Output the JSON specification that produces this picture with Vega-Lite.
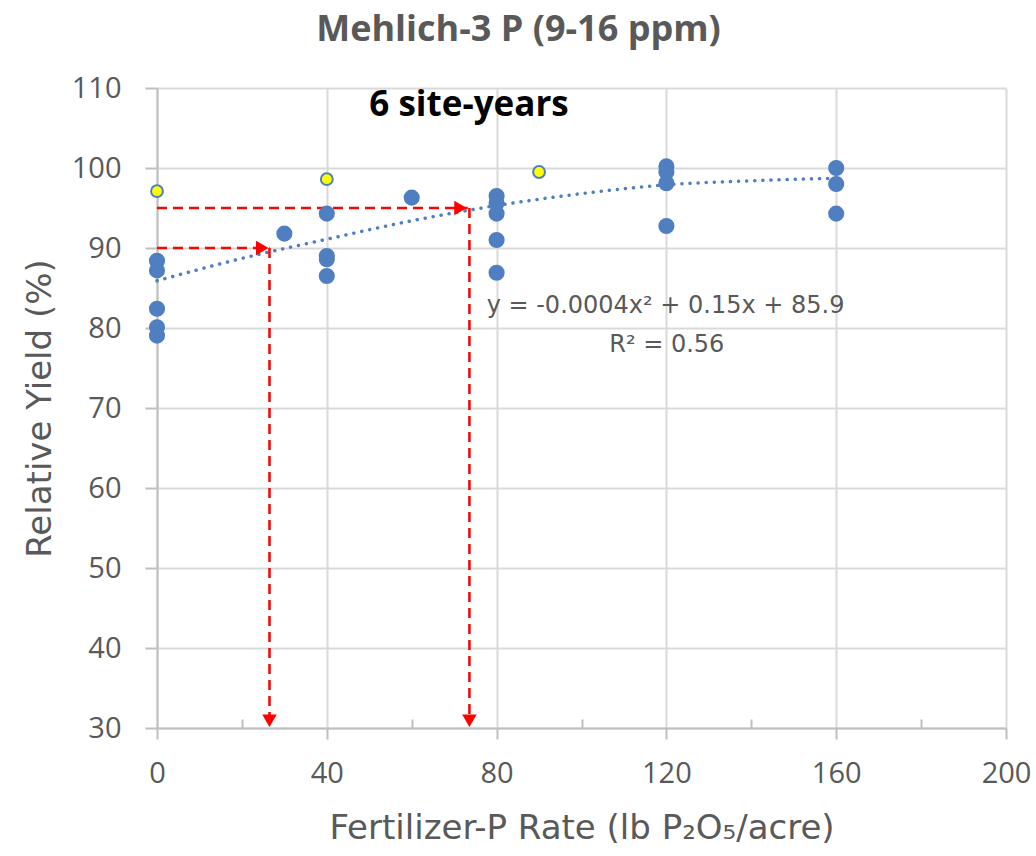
{
  "$schema": "https://vega.github.io/schema/vega-lite/v6.json",
  "autosize": "none",
  "width": 849,
  "height": 640,
  "padding": {"left": 157, "top": 88, "right": 30, "bottom": 128},
  "background": "white",
  "title": {
    "text": "Mehlich-3 P (9-16 ppm)",
    "font": "Open Sans",
    "fontSize": 36,
    "fontWeight": "bold",
    "color": "#595959",
    "anchor": "middle",
    "baseline": "alphabetic",
    "dx": -63,
    "offset": -3
  },
  "config": {
    "view": {"stroke": null},
    "axis": {
      "labelFont": "Open Sans",
      "titleFont": "DejaVu Sans",
      "labelColor": "#595959",
      "titleColor": "#595959",
      "labelFontSize": 29,
      "titleFontSize": 34,
      "titleFontWeight": "normal",
      "domainColor": "#bfbfbf",
      "domainWidth": 2,
      "tickColor": "#bfbfbf",
      "tickWidth": 2,
      "gridColor": "#d9d9d9",
      "gridWidth": 2
    }
  },
  "datasets": {
    "yields": [
      {"rate": 0, "yield": 97.1, "group": "check"},
      {"rate": 0, "yield": 88.4, "group": "site"},
      {"rate": 0, "yield": 87.2, "group": "site"},
      {"rate": 0, "yield": 82.4, "group": "site"},
      {"rate": 0, "yield": 80.1, "group": "site"},
      {"rate": 0, "yield": 79.05, "group": "site"},
      {"rate": 30, "yield": 91.8, "group": "site"},
      {"rate": 40, "yield": 98.6, "group": "check"},
      {"rate": 40, "yield": 94.3, "group": "site"},
      {"rate": 40, "yield": 89.0, "group": "site"},
      {"rate": 40, "yield": 88.6, "group": "site"},
      {"rate": 40, "yield": 86.5, "group": "site"},
      {"rate": 60, "yield": 96.3, "group": "site"},
      {"rate": 80, "yield": 96.5, "group": "site"},
      {"rate": 80, "yield": 95.6, "group": "site"},
      {"rate": 80, "yield": 94.3, "group": "site"},
      {"rate": 80, "yield": 91.0, "group": "site"},
      {"rate": 80, "yield": 86.9, "group": "site"},
      {"rate": 90, "yield": 99.5, "group": "check"},
      {"rate": 120, "yield": 100.2, "group": "site"},
      {"rate": 120, "yield": 99.5, "group": "site"},
      {"rate": 120, "yield": 98.1, "group": "site"},
      {"rate": 120, "yield": 92.75, "group": "site"},
      {"rate": 160, "yield": 100.0, "group": "site"},
      {"rate": 160, "yield": 98.0, "group": "site"},
      {"rate": 160, "yield": 94.3, "group": "site"}
    ],
    "trend": [
      {"rate": 0, "fit": 85.9},
      {"rate": 20, "fit": 88.7},
      {"rate": 40, "fit": 91.1},
      {"rate": 60, "fit": 93.4},
      {"rate": 80, "fit": 95.3},
      {"rate": 100, "fit": 96.8},
      {"rate": 120, "fit": 97.9},
      {"rate": 140, "fit": 98.4},
      {"rate": 158, "fit": 98.7}
    ],
    "guides": [
      {"x": 0, "y": 90, "x2": 26.5, "y2": 90},
      {"x": 26.5, "y": 90, "x2": 26.5, "y2": 31},
      {"x": 0, "y": 95, "x2": 73.2, "y2": 95},
      {"x": 73.6, "y": 95, "x2": 73.6, "y2": 31}
    ],
    "heads": [
      {"x": 24.8, "y": 90, "dir": "right"},
      {"x": 71.5, "y": 95, "dir": "right"},
      {"x": 26.5, "y": 30.9, "dir": "down"},
      {"x": 73.6, "y": 30.9, "dir": "down"}
    ],
    "notes": [
      {"x": 73.5, "y": 106.5, "label": "6 site-years", "kind": "count"},
      {"x": 119.8, "y": 81.9, "label": "y = -0.0004x² + 0.15x + 85.9", "kind": "fit"},
      {"x": 120.1, "y": 77.0, "label": "R² = 0.56", "kind": "fit"}
    ]
  },
  "layer": [
    {
      "data": {"name": "trend"},
      "mark": {"type": "line", "color": "#4f7fc0", "strokeWidth": 3.5, "strokeDash": [0.1, 8], "strokeCap": "round", "interpolate": "monotone"},
      "encoding": {
        "x": {
          "field": "rate",
          "type": "quantitative",
          "scale": {"domain": [0, 200], "nice": false, "zero": false},
          "axis": {
            "title": "Fertilizer-P Rate (lb P₂O₅/acre)",
            "values": [0, 20, 40, 60, 80, 100, 120, 140, 160, 180, 200],
            "labelExpr": "datum.value % 40 === 0 ? datum.label : ''",
            "gridOpacity": {"condition": {"test": "datum.value % 40 === 0", "value": 1}, "value": 0},
            "tickSize": {"condition": {"test": "datum.value % 40 === 0", "value": 11}, "value": -9},
            "labelPadding": 20,
            "titlePadding": 23,
            "labelFlush": false,
            "labelOverlap": false
          }
        },
        "y": {
          "field": "fit",
          "type": "quantitative",
          "scale": {"domain": [30, 110], "nice": false, "zero": false},
          "axis": {
            "title": "Relative Yield (%)",
            "values": [30, 35, 40, 45, 50, 55, 60, 65, 70, 75, 80, 85, 90, 95, 100, 105, 110],
            "labelExpr": "datum.value % 10 === 0 ? datum.label : ''",
            "gridOpacity": {"condition": {"test": "datum.value % 10 === 0", "value": 1}, "value": 0},
            "tickSize": {"condition": {"test": "datum.value % 10 === 0", "value": 12}, "value": -8},
            "labelPadding": 24,
            "titlePadding": 14,
            "labelFlush": false,
            "labelOverlap": false
          }
        }
      }
    },
    {
      "data": {"name": "guides"},
      "mark": {"type": "rule", "color": "#ff0000", "strokeWidth": 2.5, "strokeDash": [10, 6]},
      "encoding": {
        "x": {"field": "x", "type": "quantitative"},
        "y": {"field": "y", "type": "quantitative"},
        "x2": {"field": "x2"},
        "y2": {"field": "y2"}
      }
    },
    {
      "data": {"name": "heads"},
      "mark": {"type": "point", "filled": true, "color": "#ff0000", "opacity": 1, "size": 210},
      "encoding": {
        "x": {"field": "x", "type": "quantitative"},
        "y": {"field": "y", "type": "quantitative"},
        "shape": {
          "field": "dir",
          "type": "nominal",
          "scale": {"domain": ["right", "down"], "range": ["triangle-right", "triangle-down"]},
          "legend": null
        }
      }
    },
    {
      "data": {"name": "yields"},
      "mark": {"type": "point", "filled": true, "opacity": 1, "strokeWidth": 2},
      "encoding": {
        "x": {"field": "rate", "type": "quantitative"},
        "y": {"field": "yield", "type": "quantitative"},
        "fill": {
          "field": "group",
          "type": "nominal",
          "scale": {"domain": ["site", "check"], "range": ["#4f7fc0", "#ffff00"]},
          "legend": null
        },
        "stroke": {"value": "#4f7fc0"},
        "size": {
          "field": "group",
          "type": "nominal",
          "scale": {"domain": ["site", "check"], "range": [200, 140]},
          "legend": null
        }
      }
    },
    {
      "data": {"name": "notes"},
      "transform": [{"filter": "datum.kind === 'count'"}],
      "mark": {"type": "text", "font": "Open Sans", "fontSize": 35, "fontWeight": "bold", "color": "#000000", "align": "center", "baseline": "alphabetic"},
      "encoding": {
        "x": {"field": "x", "type": "quantitative"},
        "y": {"field": "y", "type": "quantitative"},
        "text": {"field": "label"}
      }
    },
    {
      "data": {"name": "notes"},
      "transform": [{"filter": "datum.kind === 'fit'"}],
      "mark": {"type": "text", "font": "DejaVu Sans", "fontSize": 24, "color": "#595959", "align": "center", "baseline": "alphabetic"},
      "encoding": {
        "x": {"field": "x", "type": "quantitative"},
        "y": {"field": "y", "type": "quantitative"},
        "text": {"field": "label"}
      }
    }
  ]
}
